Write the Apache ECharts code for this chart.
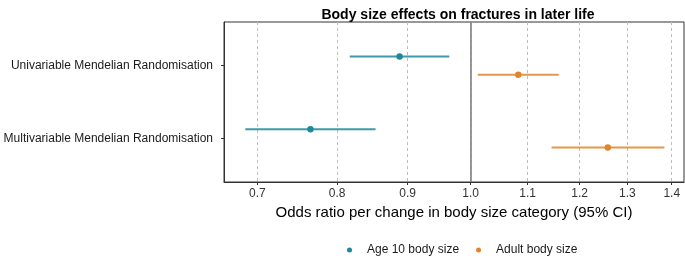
<!DOCTYPE html>
<html>
<head>
<meta charset="utf-8">
<script src="https://cdn.jsdelivr.net/npm/echarts@6/dist/echarts.min.js"></script>
<style>
html,body{margin:0;padding:0;background:#fff;}
#chart{width:685px;height:262px;}
</style>
</head>
<body>
<div id="chart"></div>
<script>
// ---- data ----
var categories = ['Univariable Mendelian Randomisation', 'Multivariable Mendelian Randomisation'];
var seriesNames = ['Age 10 body size', 'Adult body size'];
var age10OR  = [0.888, 0.765];
var age10Lo  = [0.817, 0.686];
var age10Hi  = [0.965, 0.853];
var adultOR  = [1.083, 1.258];
var adultLo  = [1.012, 1.145];
var adultHi  = [1.159, 1.383];
var xTicks = [0.7, 0.8, 0.9, 1.0, 1.1, 1.2, 1.3, 1.4];
var xRange = [0.662, 1.429];
var refValue = 1.0;
var colors = ['#1a8a9a', '#e0852c'];

// ---- build ----
var ln = Math.log;
function makeData(or, lo, hi) {
  return or.map(function (v, i) { return [ln(v), ln(lo[i]), ln(hi[i]), i + 1]; });
}
var dodge = [-0.125, 0.125];

function renderFactory(color, offset) {
  return function (params, api) {
    var y = api.value(3) + offset;
    var p = api.coord([api.value(0), y]);
    var a = api.coord([api.value(1), y]);
    var b = api.coord([api.value(2), y]);
    return {
      type: 'group',
      children: [
        { type: 'line', shape: { x1: a[0], y1: a[1], x2: b[0], y2: b[1] },
          style: { stroke: color, lineWidth: 2, opacity: 0.85 } },
        { type: 'circle', shape: { cx: p[0], cy: p[1], r: 3.2 },
          style: { fill: color } }
      ]
    };
  };
}

var chart = echarts.init(document.getElementById('chart'), null, { renderer: 'canvas' });
var font = 'Liberation Sans, Arial, sans-serif';
chart.setOption({
  animation: false,
  backgroundColor: '#fff',
  title: {
    text: 'Body size effects on fractures in later life',
    left: 453, top: 3, textAlign: 'center',
    textStyle: { fontFamily: font, fontSize: 14, fontWeight: 'bold', color: '#000' }
  },
  legend: {
    data: seriesNames.map(function (n) { return { name: n, icon: 'circle' }; }),
    left: 342, top: 239,
    itemWidth: 5, itemHeight: 5, itemGap: 17,
    textStyle: { fontFamily: font, fontSize: 12, color: '#1a1a1a', padding: [0, 0, 0, 10] }
  },
  grid: {
    left: 224, right: 1, top: 22, bottom: 80,
    show: true, borderColor: '#333', borderWidth: 1, backgroundColor: '#fff'
  },
  xAxis: {
    type: 'value',
    min: ln(xRange[0]), max: ln(xRange[1]),
    name: 'Odds ratio per change in body size category (95% CI)',
    nameLocation: 'middle', nameGap: 21,
    nameTextStyle: { fontFamily: font, fontSize: 15, color: '#000' },
    axisLine: { show: true, onZero: false, lineStyle: { color: '#333', width: 1 } },
    axisTick: { show: true, length: 3, lineStyle: { color: '#333' }, customValues: xTicks.map(ln) },
    axisLabel: {
      fontFamily: font, fontSize: 12, color: '#333', margin: 6,
      customValues: xTicks.map(ln),
      formatter: function (v) { return Math.exp(v).toFixed(1); }
    },
    splitLine: { show: true, lineStyle: { color: '#bdbdbd', type: [3, 3], width: 1 } }
  },
  yAxis: {
    type: 'value', inverse: true, min: 0.4, max: 2.6,
    axisLine: { show: true, onZero: false, lineStyle: { color: '#333', width: 1 } },
    axisTick: { show: true, length: 3, lineStyle: { color: '#333' }, customValues: [1, 2] },
    axisLabel: {
      fontFamily: font, fontSize: 12, color: '#1a1a1a', margin: 11,
      customValues: [1, 2],
      formatter: function (v) { return categories[Math.round(v) - 1] || ''; }
    },
    splitLine: { show: false }
  },
  series: [
    {
      name: seriesNames[0], type: 'custom', color: colors[0],
      renderItem: renderFactory(colors[0], dodge[0]),
      encode: { x: [0, 1, 2], y: 3 },
      data: makeData(age10OR, age10Lo, age10Hi),
      markLine: {
        silent: true, symbol: 'none', label: { show: false },
        lineStyle: { color: '#7f7f7f', type: 'solid', width: 1.6 },
        data: [{ xAxis: ln(refValue) }]
      },
      z: 3
    },
    {
      name: seriesNames[1], type: 'custom', color: colors[1],
      renderItem: renderFactory(colors[1], dodge[1]),
      encode: { x: [0, 1, 2], y: 3 },
      data: makeData(adultOR, adultLo, adultHi),
      z: 3
    }
  ]
});
</script>
</body>
</html>
